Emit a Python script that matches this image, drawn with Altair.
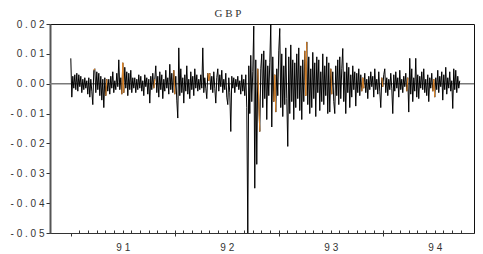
import altair as alt
import pandas as pd

# daily GBP returns, in thousandths (Jan 1991 - Sep 1994)
s1991a = [8.5, -4.5, 2.5, -1.5, 3.0, -2.0, 3.5, -2.5, 3.0, -1.0, 2.5, -3.0, 1.5, -2.0, 2.0, -1.5,
          1.0, -3.5, 2.0, -4.5, 1.5, -2.5, -7.0, 4.5, 5.0, -3.0, 4.0, -2.0, 3.5, -4.0, 2.5, -5.5,
          1.5, -8.0, 2.0, -4.0, 1.5, -2.5, 1.5, -3.5, 2.5, -1.5, 4.0, -3.0, 1.0, -2.0, 3.5, -1.0,
          8.0, -2.0, 2.0, -3.5, 7.0, -3.0, 5.5, -1.5, 4.0, -4.0, 3.5, -2.0, 4.5, -3.0, 2.0, -1.5]
s1991b = [2.0, -3.0, 1.5, -2.0, 3.0, -1.5, 2.5, -2.5, 1.0, -4.0, 3.0, -1.0, 2.0, -3.5, 1.5, -6.5,
          2.5, -2.0, 3.5, -1.5, 1.5, 6.0, -3.0, 2.5, -4.5, 4.0, -2.0, 3.0, -5.0, 1.5, -2.5, 4.5,
          -1.5, 2.0, -3.5, 6.5, -2.0, 3.5, -3.0, 4.5, -3.5, 2.5, -5.5, -11.5, 12.0, -4.0, 5.0, -3.0,
          2.0, -6.5, 3.0, -2.5, 6.0, -3.5, 1.5, -5.0, 4.0, -2.0, 2.5, -4.0, 5.0, -1.5, 3.0, -2.5, 1.5]
s1992a = [-2.0, 3.0, -1.5, 12.0, -3.0, 2.0, -1.5, -5.0, 3.5, 1.0, 3.5, -2.0, 2.5, -3.0, 4.0, -1.5,
          -6.5, 2.0, 5.0, -2.5, 3.0, -1.0, 4.5, -3.0, 1.5, -2.0, 3.5, -4.5, -7.0, 2.0, -3.0, -16.0,
          2.5, -1.5, 2.0, -3.0, 1.5, -1.0, 2.5, -2.0, 1.0, -3.5, 3.0, -2.5, 1.5, -4.0]
s1992b = [3.0, -8.0, -50.0, 6.0, -10.0, 9.5, -6.0, 4.0, 19.3, -35.0, 8.0, -27.0, 5.0, -6.0, -16.0, 5.0,
          10.0, -8.0, 11.0, -5.0, 8.0, -12.0, 6.0, -4.0, 7.0, 20.0, -14.5, 9.0, -6.0, 3.0, -9.5, 5.0,
          -4.0, 11.0, 18.5, -8.0, 10.0, -11.0, 6.0, -7.0, 12.0, -5.0, -21.0, 9.0, -10.0, 13.0, -6.0, 8.0,
          -12.0, 7.0]
s1993 = [-8.0, 10.0, -5.0, 12.0, -9.0, 6.0, -12.0, 8.0, -6.0, 11.0, -4.0, 14.0, -7.0, 9.0, -10.0, 5.0,
         -8.0, 10.5, -5.0, 7.0, -11.0, 9.0, -3.0, 8.0, -9.0, 4.0, -6.0, 10.0, -7.0, 6.0, -4.0, 9.0,
         -10.0, 7.0, -9.5, 5.0, -3.5, 4.0, -6.0, -10.0, 6.0, -4.0, 8.0, -7.0, 9.0, -5.0, 5.0, 11.8,
         -6.0, 4.0, -10.0, 7.0, -3.0, 5.5, -8.0, 3.0, -4.5, 6.0, -2.0, 4.0, -7.5, 3.5, -3.0, 5.0, -4.0]
s1994 = [3.0, -2.5, 2.0, -1.5, 3.5, -3.0, 1.5, -5.0, 2.5, -2.0, 4.0, -1.0, 2.5, -4.5, 5.0, -2.0,
         1.5, -3.5, 4.0, -2.5, -8.0, 2.0, -1.0, 3.0, 5.0, -3.0, 2.0, -4.0, 1.5, -2.0, 3.5, -1.5,
         -10.0, 3.0, -2.5, 4.0, -1.5, 2.0, -4.5, 4.5, -2.0, 1.5, -3.0, 2.5, -1.0, 3.5, -2.5, 2.0,
         -9.5, 8.5, -3.5, 5.0, -6.0, 2.0, -2.5, 8.5, -4.5, 3.0, -5.0, 2.5, -1.5, 4.0, -2.0, 5.0,
         -3.0, 1.5, -4.0, 3.0, -6.0, 2.0, -1.5, 3.5, -2.5, 1.5, -4.5, 2.0, -2.0, 4.5, -3.0, 2.5,
         -1.0, 4.0, -5.5, 3.0, -2.0, 5.5, -3.5, 2.0, -1.5, 4.0, -2.5, 1.0, -8.3, 5.0, -2.0, 4.5,
         -3.0, 2.5, -1.5, 1.0]

# indices (into the full series) of the days drawn in orange (segment start)
orange_starts = [23, 35, 51, 52, 83, 103, 137, 138, 187, 188, 203, 204, 234, 235, 260,
                 291, 292, 311, 336, 362, 363]

start_year = 1991.0
end_year = 1994.74

y_ticks = [-0.05, -0.04, -0.03, -0.02, -0.01, 0.0, 0.01, 0.02]
y_tick_text = ["- 0 . 0 5", "- 0 . 0 4", "- 0 . 0 3", "- 0 . 0 2", "- 0 . 0 1",
               "0 . 0 0", "0 . 0 1", "0 . 0 2"]
x_years = [1991, 1992, 1993, 1994]
x_tick_text = ["9 1", "9 2", "9 3", "9 4"]

values = s1991a + s1991b + s1992a + s1992b + s1993 + s1994
n = len(values)
step = (end_year - start_year) / (n - 1)
df = pd.DataFrame({
    "idx": range(n),
    "year": [start_year + i * step for i in range(n)],
    "ret": [v / 1000.0 for v in values],
})

orows = []
for s in orange_starts:
    for k in (s, s + 1):
        orows.append({"seg": s, "year": df.year[k], "ret": df.ret[k]})
odf = pd.DataFrame(orows)

W = 424
xscale = alt.Scale(domain=[1990.8, 1990.8 + W / 104.0], nice=False, zero=False)
yscale = alt.Scale(domain=[-0.05, 0.02], nice=False, zero=False)

lab_font = "Liberation Sans"

main_x_vals = []
for y in x_years:
    main_x_vals += [y, y + 0.5]

label_arr = "[" + ",".join("'" + t + "'" for t in x_tick_text) + "]"
ylabel_arr = "[" + ",".join("'" + t + "'" for t in y_tick_text) + "]"

x_label_expr = ("datum.value % 1 != 0 ? " + label_arr + "[floor(datum.value) - "
                + str(x_years[0]) + "] : ''")
y_label_expr = ylabel_arr + "[round(datum.value * 100) + 5]"

x_axis_main = alt.Axis(
    values=main_x_vals,
    labelExpr=x_label_expr,
    tickSize={"condition": {"test": "datum.value % 1 == 0", "value": 3}, "value": 0},
    tickColor="#333", domainColor="#333", domainWidth=1.2,
    labelFont=lab_font, labelFontSize=10, labelColor="#333", labelPadding=9,
    grid=False, title=None, orient="bottom",
)

month_vals = [1991 + k / 12 for k in range(1, 46)]
x_axis_months = alt.Axis(
    values=month_vals, labels=False, domain=False, tickSize=3, offset=-3,
    tickColor="#333", grid=False, title=None, orient="bottom",
)

y_axis = alt.Axis(
    values=y_ticks,
    labelExpr=y_label_expr,
    tickSize=4, tickColor="#333", domainColor="#555", domainWidth=2,
    labelFont=lab_font, labelFontSize=10, labelColor="#333", labelPadding=2,
    grid=False, title=None,
)

zero = alt.Chart(pd.DataFrame({"z": [0.0]})).mark_rule(color="#7a7a7a", strokeWidth=1.6).encode(
    y=alt.Y("z:Q", scale=yscale, axis=y_axis)
)

line = alt.Chart(df).mark_line(color="black", strokeWidth=1).encode(
    x=alt.X("year:Q", scale=xscale, axis=x_axis_main),
    y=alt.Y("ret:Q", scale=yscale, axis=y_axis),
    order="idx:Q",
)

orange = alt.Chart(odf).mark_line(color="#e0862a", strokeWidth=1.1).encode(
    x=alt.X("year:Q", scale=xscale, axis=x_axis_months),
    y=alt.Y("ret:Q", scale=yscale, axis=y_axis),
    detail="seg:N",
)

chart = alt.layer(zero, line, orange).resolve_axis(x="independent").properties(
    width=W,
    height=209,
    padding={"left": 42, "top": 16, "right": 1, "bottom": 20},
    autosize=alt.AutoSizeParams(type="none"),
    title=alt.Title("G B P", font="Liberation Serif", fontSize=11, fontWeight="normal",
                    color="#333", dx=-34, offset=0, frame="group"),
).configure_view(stroke="#111", strokeWidth=1)

chart.save("out.html", embed_options={"renderer": "svg", "actions": False})
